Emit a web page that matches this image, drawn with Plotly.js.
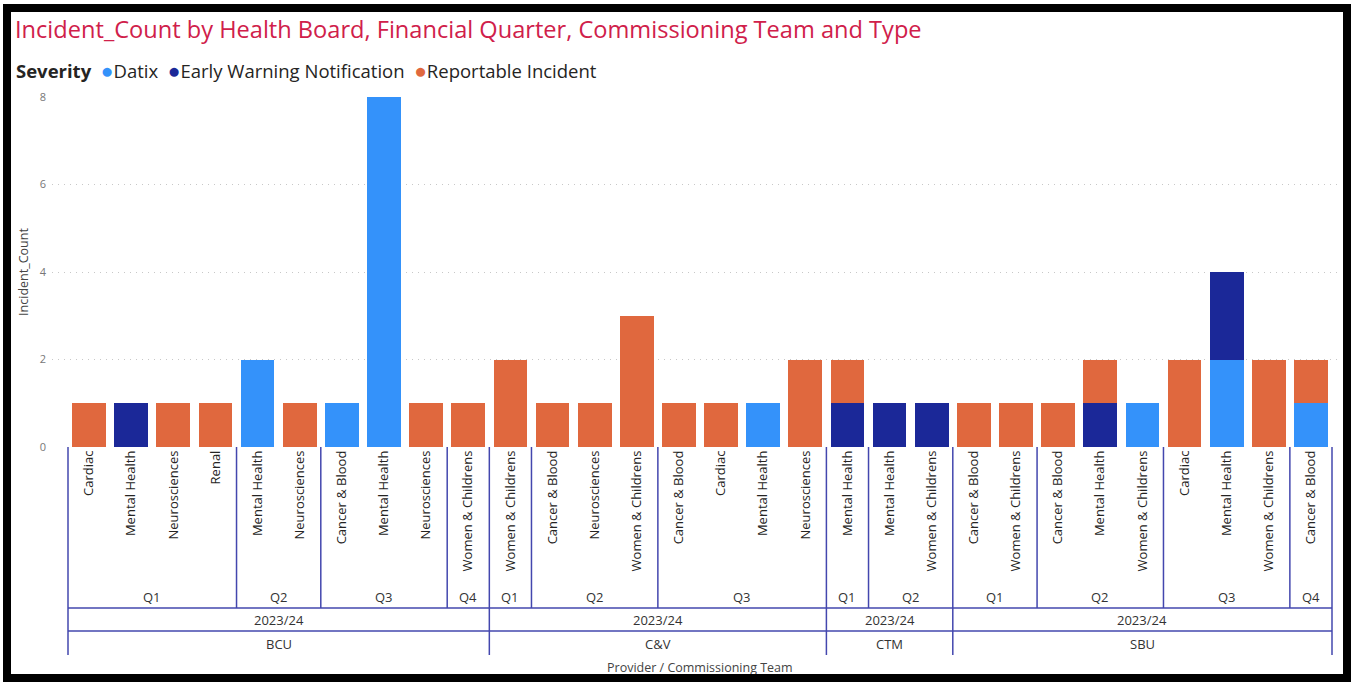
<!DOCTYPE html>
<html>
<head>
<meta charset="utf-8">
<script src="https://cdn.plot.ly/plotly-3.0.1.min.js"></script>
<style>
  html, body { margin:0; padding:0; background:#fff; }
  #chart { width:1353px; height:682px; }
  #frame { position:absolute; left:3px; top:4px; width:1348px; height:678px; box-sizing:border-box; border:8px solid #000; pointer-events:none; }
</style>
</head>
<body>
<div id="chart"></div>
<div id="frame"></div>
<script>
// ---- data ----
const providers = ["BCU","BCU","BCU","BCU","BCU","BCU","BCU","BCU","BCU","BCU",
  "C&V","C&V","C&V","C&V","C&V","C&V","C&V","C&V",
  "CTM","CTM","CTM",
  "SBU","SBU","SBU","SBU","SBU","SBU","SBU","SBU","SBU"];
const years = ["2023/24","2023/24","2023/24","2023/24","2023/24","2023/24","2023/24","2023/24","2023/24","2023/24",
  "2023/24","2023/24","2023/24","2023/24","2023/24","2023/24","2023/24","2023/24",
  "2023/24","2023/24","2023/24",
  "2023/24","2023/24","2023/24","2023/24","2023/24","2023/24","2023/24","2023/24","2023/24"];
const quarters = ["Q1","Q1","Q1","Q1","Q2","Q2","Q3","Q3","Q3","Q4",
  "Q1","Q2","Q2","Q2","Q3","Q3","Q3","Q3",
  "Q1","Q2","Q2",
  "Q1","Q1","Q2","Q2","Q2","Q3","Q3","Q3","Q4"];
const teams = ["Cardiac","Mental Health","Neurosciences","Renal","Mental Health","Neurosciences","Cancer & Blood","Mental Health","Neurosciences","Women & Childrens",
  "Women & Childrens","Cancer & Blood","Neurosciences","Women & Childrens","Cancer & Blood","Cardiac","Mental Health","Neurosciences",
  "Mental Health","Mental Health","Women & Childrens",
  "Cancer & Blood","Women & Childrens","Cancer & Blood","Mental Health","Women & Childrens","Cardiac","Mental Health","Women & Childrens","Cancer & Blood"];
const datix = [0,0,0,0,2,0,1,8,0,0, 0,0,0,0,0,0,1,0, 0,0,0, 0,0,0,0,1,0,2,0,1];
const earlyWarning = [0,1,0,0,0,0,0,0,0,0, 0,0,0,0,0,0,0,0, 1,1,1, 0,0,0,1,0,0,2,0,0];
const reportable = [1,0,1,1,0,1,0,0,1,1, 2,1,1,3,1,1,0,2, 1,0,0, 1,1,1,1,0,2,0,2,1];
const seriesNames = ["Datix","Early Warning Notification","Reportable Incident"];
const seriesColors = ["#3492FA","#1B2898","#E0683E"];
const yTicks = [0,2,4,6,8];

// ---- build ----
const FONT = "'Open Sans', 'Noto Sans', sans-serif";
const idx = teams.map((_, i) => i);
const seriesValues = [datix, earlyWarning, reportable];
const traces = seriesValues.map((vals, s) => ({
  type: 'bar', x: idx, y: vals.map(v => v === 0 ? null : v), name: seriesNames[s],
  marker: { color: seriesColors[s], line: { width: 0 } }, showlegend: false,
  hoverinfo: 'y+name'
}));

function runs(keyFn) {
  const out = []; let start = 0;
  for (let i = 1; i <= teams.length; i++) {
    if (i === teams.length || keyFn(i) !== keyFn(start)) {
      out.push({ start, end: i - 1 }); start = i;
    }
  }
  return out;
}
const qRuns = runs(i => providers[i] + '|' + years[i] + '|' + quarters[i]);
const yRuns = runs(i => providers[i] + '|' + years[i]);
const pRuns = runs(i => providers[i]);

const PT = 97, PB = 447, PH = PB - PT;
const PL = 52, PR = 1337, PW = PR - PL;
const py = p => (PB - p) / PH;
const px = p => (p - PL) / PW;
const yQBottom = py(608), yYBottom = py(631), yPBottom = py(655);
const LINE = { color: '#4347AE', width: 1.5 };

const shapes = [];
const first = -0.5, last = teams.length - 0.5;
[yQBottom, yYBottom].forEach(yy => shapes.push({ type: 'line', xref: 'x', yref: 'paper', x0: first, x1: last, y0: yy, y1: yy, line: LINE }));
const pBounds = new Set([first, last]);
pRuns.forEach(r => { pBounds.add(r.start - 0.5); pBounds.add(r.end + 0.5); });
const qBounds = new Set();
qRuns.forEach(r => { qBounds.add(r.start - 0.5); qBounds.add(r.end + 0.5); });
qBounds.forEach(b => { if (!pBounds.has(b)) shapes.push({ type: 'line', xref: 'x', yref: 'paper', x0: b, x1: b, y0: 0, y1: yQBottom, line: LINE }); });
pBounds.forEach(b => shapes.push({ type: 'line', xref: 'x', yref: 'paper', x0: b, x1: b, y0: 0, y1: yPBottom, line: LINE }));

const annotations = [];
const lab = (x, y, text, size, color) => ({ xref: 'x', yref: 'paper', x, y, text, showarrow: false, xanchor: 'center', yanchor: 'middle', font: { family: FONT, size, color } });
qRuns.forEach(r => annotations.push(lab((r.start + r.end) / 2, py(597), quarters[r.start], 13, '#333333')));
yRuns.forEach(r => annotations.push(lab((r.start + r.end) / 2, py(620), years[r.start], 13, '#333333')));
pRuns.forEach(r => annotations.push(lab((r.start + r.end) / 2, py(644), providers[r.start], 13, '#333333')));
annotations.push({ xref: 'paper', yref: 'paper', x: px(700), y: py(667), text: 'Provider / Commissioning Team', showarrow: false, xanchor: 'center', yanchor: 'middle', font: { family: FONT, size: 12.5, color: '#444444' } });
const NB = '\u00A0';
let legendText = '<b>Severity</b>' + NB;
seriesNames.forEach((n, s) => { legendText += NB + '<span style="color:' + seriesColors[s] + ';font-size:21px">●</span>' + n + NB; });
annotations.push({ xref: 'paper', yref: 'paper', x: px(14), y: py(70), text: legendText, showarrow: false, xanchor: 'left', yanchor: 'middle', font: { family: FONT, size: 18.5, color: '#252423' } });

const layout = {
  width: 1353, height: 682,
  margin: { l: PL, r: 1353 - PR, t: PT, b: 682 - PB },
  paper_bgcolor: '#ffffff', plot_bgcolor: '#ffffff',
  barmode: 'stack', bargap: 0.2,
  title: { text: 'Incident_Count by Health Board, Financial Quarter, Commissioning Team and Type', xref: 'container', yref: 'container', x: 15 / 1353, xanchor: 'left', y: 1 - 30 / 682, yanchor: 'middle', font: { family: FONT, size: 23.6, color: '#D0204A' } },
  xaxis: {
    range: [-0.5 - (68 - PL) / 42.133, teams.length - 0.5 + (PR - 1332) / 42.133],
    tickmode: 'array', tickvals: idx, ticktext: teams, tickangle: -90,
    tickfont: { family: FONT, size: 13, color: '#252423' },
    showgrid: false, zeroline: false, showline: false, ticks: '', fixedrange: true
  },
  yaxis: {
    range: [0, 8], tickvals: yTicks, ticktext: yTicks.map(String),
    tickfont: { family: FONT, size: 11, color: '#777777' },
    showgrid: true, gridcolor: '#C8C8C8', griddash: '1px,5px', gridwidth: 1,
    zeroline: false, showline: false, ticks: '', ticklabelstandoff: 5,
    title: { text: 'Incident_Count', font: { family: FONT, size: 12.5, color: '#444444' }, standoff: 8 },
    fixedrange: true
  },
  shapes, annotations, showlegend: false
};

Plotly.newPlot('chart', traces, layout, { displayModeBar: false, staticPlot: true });
</script>
</body>
</html>
